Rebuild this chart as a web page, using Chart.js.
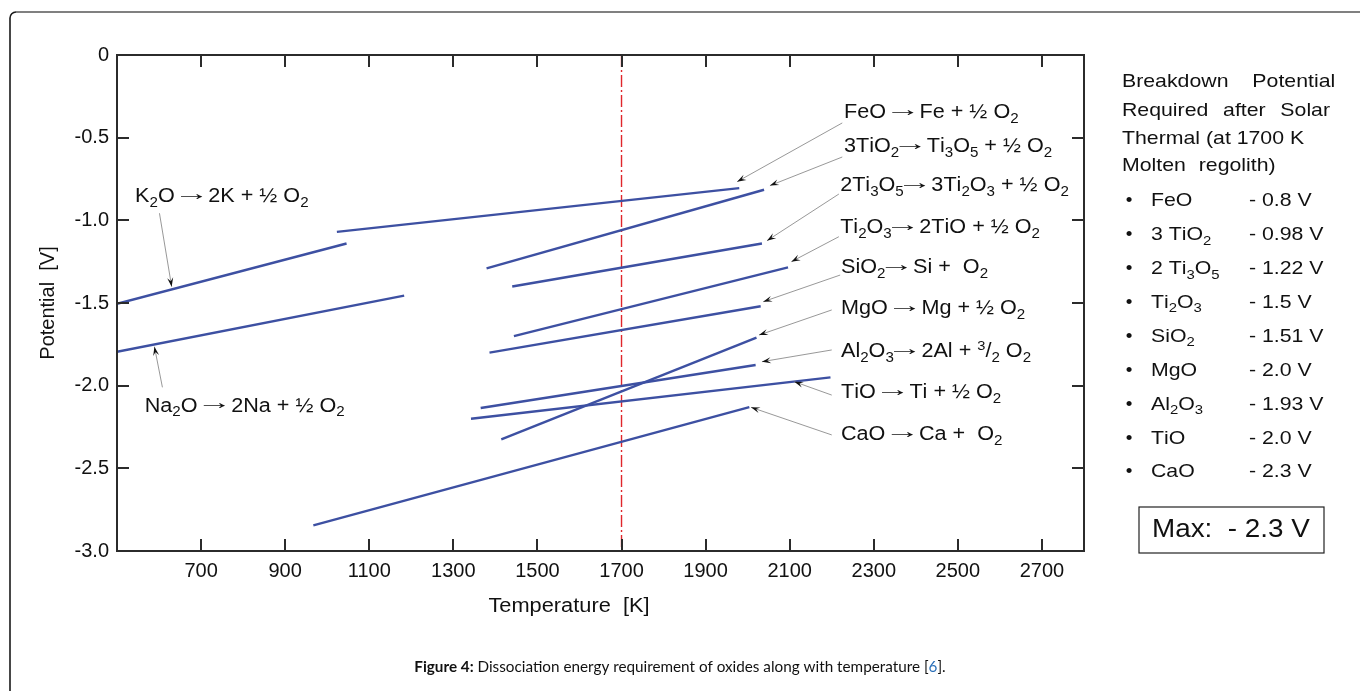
<!DOCTYPE html>
<html>
<head>
<meta charset="utf-8">
<title>Oxide dissociation potential</title>
<script src="https://cdn.jsdelivr.net/npm/chart.js@4.4.0/dist/chart.umd.min.js"></script>
<style>
  html, body { margin: 0; padding: 0; background: #fff; }
  #wrap { width: 1360px; height: 691px; }
</style>
</head>
<body>
<div id="wrap"><canvas id="oxideChart" width="1360" height="691"></canvas></div>
<script>
// reaction lines (temperature in K, potential in V)
const reactions = ['FeO', '3TiO2', '2Ti3O5', 'Ti2O3', 'SiO2', 'MgO', 'Al2O3', 'TiO', 'CaO', 'K2O', 'Na2O'];
const startTemp = [1023, 1379, 1440, 1444, 1386, 1414, 1365, 1342, 967, 500, 500];
const endTemp = [1980, 2039, 2034, 2096, 2031, 2021, 2019, 2197, 2004, 1046, 1183];
const startPot = [-1.07, -1.29, -1.40, -1.70, -1.80, -2.325, -2.135, -2.20, -2.845, -1.505, -1.795];
const endPot = [-0.805, -0.815, -1.14, -1.285, -1.52, -1.71, -1.875, -1.95, -2.13, -1.14, -1.455];

const refTemp = 1700;
const xTicks = [700, 900, 1100, 1300, 1500, 1700, 1900, 2100, 2300, 2500, 2700];
const yTicks = [0, -0.5, -1.0, -1.5, -2.0, -2.5, -3.0];

// _x = subscript, ^x = superscript
const reactionLabels = [
  'FeO \u2192 Fe + \u00bd O_2',
  '3TiO_2\u2192 Ti_3O_5 + \u00bd O_2',
  '2Ti_3O_5\u2192 3Ti_2O_3 + \u00bd O_2',
  'Ti_2O_3\u2192 2TiO + \u00bd O_2',
  'SiO_2\u2192 Si +  O_2',
  'MgO \u2192 Mg + \u00bd O_2',
  'Al_2O_3\u2192 2Al + ^3/_2 O_2',
  'TiO \u2192 Ti + \u00bd O_2',
  'CaO \u2192 Ca +  O_2',
  'K_2O \u2192 2K + \u00bd O_2',
  'Na_2O \u2192 2Na + \u00bd O_2'
];

const panelTitle = ['Breakdown Potential', 'Required after Solar', 'Thermal (at 1700 K', 'Molten regolith)'];
const panelNames = ['FeO', '3 TiO_2', '2 Ti_3O_5', 'Ti_2O_3', 'SiO_2', 'MgO', 'Al_2O_3', 'TiO', 'CaO'];
const panelValues = ['- 0.8 V', '- 0.98 V', '- 1.22 V', '- 1.5 V', '- 1.51 V', '- 2.0 V', '- 1.93 V', '- 2.0 V', '- 2.3 V'];
const panelMax = 'Max:  - 2.3 V';

// where each label sits and where its arrow runs (data units)
const labelPlace = [
  { text: [2229, -0.35], from: [2225, -0.411], to: [1975, -0.766] },
  { text: [2229, -0.556], from: [2225, -0.617], to: [2053, -0.79] },
  { text: [2220, -0.79], from: [2217, -0.841], to: [2046, -1.123] },
  { text: [2220, -1.046], from: [2217, -1.099], to: [2104, -1.25] },
  { text: [2222, -1.288], from: [2220, -1.331], to: [2037, -1.492] },
  { text: [2222, -1.536], from: [2200, -1.542], to: [2027, -1.694] },
  { text: [2222, -1.795], from: [2200, -1.784], to: [2034, -1.855] },
  { text: [2222, -2.044], from: [2200, -2.057], to: [2111, -1.976] },
  { text: [2222, -2.298], from: [2200, -2.298], to: [2008, -2.131] },
  { text: [543, -0.857], from: [601, -0.957], to: [630, -1.401] },
  { text: [566, -2.123], from: [608, -2.01], to: [589, -1.764] }
];

const FONT = '"Liberation Sans", Arial, sans-serif';

// draws text with sub/superscripts, stretched horizontally by sx
function drawRich(ctx, text, x, y, size, sx) {
  ctx.save();
  ctx.translate(x, y);
  ctx.scale(sx || 1, 1);
  ctx.textBaseline = 'middle';
  ctx.textAlign = 'left';
  let cx = 0;
  for (let i = 0; i < text.length; i++) {
    let ch = text[i], s = size, dy = 0;
    if (ch === '_' && i + 1 < text.length) { ch = text[++i]; s = size * 0.7; dy = size * 0.32; }
    else if (ch === '^' && i + 1 < text.length) { ch = text[++i]; s = size * 0.68; dy = -size * 0.3; }
    ctx.font = s + 'px ' + FONT;
    const w = ctx.measureText(ch).width;
    if (ch === '\u2192') {
      // long thin arrow: stretch the glyph inside its own advance
      ctx.save();
      ctx.translate(cx + w / 2, -2.5);
      ctx.scale(1.65, 1);
      ctx.textAlign = 'center';
      ctx.fillText(ch, 0, 0);
      ctx.restore();
    } else {
      ctx.fillText(ch, cx, dy);
    }
    cx += w;
  }
  ctx.restore();
}

function drawStretched(ctx, text, x, y, sx, align) {
  ctx.save();
  ctx.translate(x, y);
  ctx.scale(sx, 1);
  ctx.textAlign = align || 'left';
  ctx.fillText(text, 0, 0);
  ctx.restore();
  return ctx.measureText(text).width * sx;
}

function drawArrow(ctx, x1, y1, x2, y2) {
  ctx.save();
  ctx.strokeStyle = '#8c8c8c';
  ctx.lineWidth = 0.9;
  ctx.beginPath();
  ctx.moveTo(x1, y1);
  ctx.lineTo(x2, y2);
  ctx.stroke();
  const a = Math.atan2(y2 - y1, x2 - x1);
  const len = 9, half = 3;
  const ux = Math.cos(a), uy = Math.sin(a);
  ctx.fillStyle = '#111';
  ctx.beginPath();
  ctx.moveTo(x2, y2);
  ctx.lineTo(x2 - len * ux - half * uy, y2 - len * uy + half * ux);
  ctx.lineTo(x2 - len * 0.6 * ux, y2 - len * 0.6 * uy);
  ctx.lineTo(x2 - len * ux + half * uy, y2 - len * uy - half * ux);
  ctx.closePath();
  ctx.fill();
  ctx.restore();
}

const decorPlugin = {
  id: 'decor',
  beforeDraw(chart) {
    const ctx = chart.ctx;
    ctx.save();
    ctx.fillStyle = '#fff';
    ctx.fillRect(0, 0, chart.width, chart.height);
    // page frame
    ctx.lineWidth = 1.6;
    ctx.strokeStyle = '#1a1a1a';
    ctx.beginPath();
    ctx.moveTo(10, chart.height);
    ctx.lineTo(10, 18);
    ctx.arcTo(10, 12, 16, 12, 6);
    ctx.stroke();
    ctx.strokeStyle = '#808080';
    ctx.lineWidth = 2;
    ctx.beginPath();
    ctx.moveTo(16, 12);
    ctx.lineTo(chart.width, 12);
    ctx.stroke();
    ctx.restore();
  },
  afterDraw(chart) {
    const ctx = chart.ctx;
    const area = chart.chartArea;
    const xs = chart.scales.x, ys = chart.scales.y;
    ctx.save();

    // axis box with inward ticks
    ctx.strokeStyle = '#2b2b2b';
    ctx.lineWidth = 2;
    ctx.strokeRect(area.left, area.top, area.right - area.left, area.bottom - area.top);
    const tl = 12;
    ctx.beginPath();
    xTicks.forEach(v => {
      const px = Math.round(xs.getPixelForValue(v));
      ctx.moveTo(px, area.bottom); ctx.lineTo(px, area.bottom - tl);
      ctx.moveTo(px, area.top); ctx.lineTo(px, area.top + tl);
    });
    yTicks.forEach(v => {
      const py = Math.round(ys.getPixelForValue(v));
      ctx.moveTo(area.left, py); ctx.lineTo(area.left + tl, py);
      ctx.moveTo(area.right, py); ctx.lineTo(area.right - tl, py);
    });
    ctx.stroke();

    // axis titles
    ctx.fillStyle = '#111';
    ctx.font = '20px ' + FONT;
    ctx.textBaseline = 'middle';
    drawStretched(ctx, 'Temperature  [K]', 569, 606, 1.09, 'center');
    ctx.save();
    ctx.translate(48, (area.top + area.bottom) / 2);
    ctx.rotate(-Math.PI / 2);
    ctx.textAlign = 'center';
    ctx.fillText('Potential  [V]', 0, 0);
    ctx.restore();

    // reaction labels and arrows
    labelPlace.forEach((p, i) => {
      drawArrow(ctx,
        xs.getPixelForValue(p.from[0]), ys.getPixelForValue(p.from[1]),
        xs.getPixelForValue(p.to[0]), ys.getPixelForValue(p.to[1]));
      ctx.fillStyle = '#111';
      drawRich(ctx, reactionLabels[i], xs.getPixelForValue(p.text[0]), ys.getPixelForValue(p.text[1]), 20, 1.08);
    });

    // right-hand panel
    ctx.fillStyle = '#111';
    const sx = 1.12;
    const gaps = [18, 8.8, 0, 7];
    const titleY = [82, 110.5, 138.5, 166];
    ctx.font = '19px ' + FONT;
    ctx.textBaseline = 'middle';
    panelTitle.forEach((line, i) => {
      let cx = 1122;
      line.split(' ').forEach(word => {
        ctx.font = '19px ' + FONT;
        drawStretched(ctx, word, cx, titleY[i], sx);
        cx += ctx.measureText(word + ' ').width * sx + gaps[i];
      });
    });
    panelNames.forEach((name, i) => {
      const y = 201 + i * 33.9;
      ctx.font = '19px ' + FONT;
      drawStretched(ctx, '\u2022', 1129, y, 1, 'center');
      drawRich(ctx, name, 1151, y, 19, sx);
      ctx.font = '19px ' + FONT;
      drawStretched(ctx, panelValues[i], 1249, y, sx);
    });
    ctx.strokeStyle = '#222';
    ctx.lineWidth = 1.2;
    ctx.strokeRect(1139, 507, 185, 46);
    ctx.font = '26px ' + FONT;
    drawStretched(ctx, panelMax, 1152, 530, 1.07);

    // caption
    const capFont = '"Lato", "Open Sans", sans-serif';
    const parts = [
      { t: 'Figure 4:', bold: true, c: '#111' },
      { t: ' Dissociation energy requirement of oxides along with temperature [', bold: false, c: '#111' },
      { t: '6', bold: false, c: '#2a6fb8' },
      { t: '].', bold: false, c: '#111' }
    ];
    const measure = s => parts.reduce((w, p) => {
      ctx.font = (p.bold ? 'bold ' : '') + s + 'px ' + capFont;
      return w + ctx.measureText(p.t).width;
    }, 0);
    const size = 17 * 532 / measure(17);
    let cx = 680 - measure(size) / 2;
    ctx.textAlign = 'left';
    parts.forEach(p => {
      ctx.font = (p.bold ? 'bold ' : '') + size + 'px ' + capFont;
      ctx.fillStyle = p.c;
      ctx.fillText(p.t, cx, 667);
      cx += ctx.measureText(p.t).width;
    });

    ctx.restore();
  }
};

const datasets = reactions.map((name, i) => ({
  label: name,
  data: [{ x: startTemp[i], y: startPot[i] }, { x: endTemp[i], y: endPot[i] }],
  borderColor: '#3d50a2',
  borderWidth: 2.4,
  pointRadius: 0,
  fill: false
}));
datasets.push({
  label: refTemp + ' K',
  data: [{ x: refTemp, y: 0 }, { x: refTemp, y: -3 }],
  borderColor: '#e0262b',
  borderWidth: 1.4,
  borderDash: [12, 3, 2, 3],
  pointRadius: 0,
  fill: false
});

new Chart(document.getElementById('oxideChart').getContext('2d'), {
  type: 'line',
  data: { datasets: datasets },
  options: {
    responsive: false,
    animation: false,
    layout: { padding: { top: 55, right: 276, left: 0, bottom: 0 } },
    plugins: { legend: { display: false }, tooltip: { enabled: false } },
    scales: {
      x: {
        type: 'linear',
        min: 500,
        max: 2800,
        afterBuildTicks: s => { s.ticks = xTicks.map(v => ({ value: v })); },
        afterFit: s => { s.height = 140; },
        grid: { display: false, drawTicks: false },
        border: { display: false },
        ticks: {
          font: { size: 20, family: FONT }, color: '#111', padding: 8, maxRotation: 0, autoSkip: false,
          callback: v => String(v)
        }
      },
      y: {
        min: -3,
        max: 0,
        afterBuildTicks: s => { s.ticks = yTicks.map(v => ({ value: v })); },
        afterFit: s => { s.width = 117; },
        grid: { display: false, drawTicks: false },
        border: { display: false },
        ticks: {
          font: { size: 20, family: FONT }, color: '#111', padding: 8,
          callback: v => v === 0 ? '0' : v.toFixed(1)
        }
      }
    }
  },
  plugins: [decorPlugin]
});
</script>
</body>
</html>
